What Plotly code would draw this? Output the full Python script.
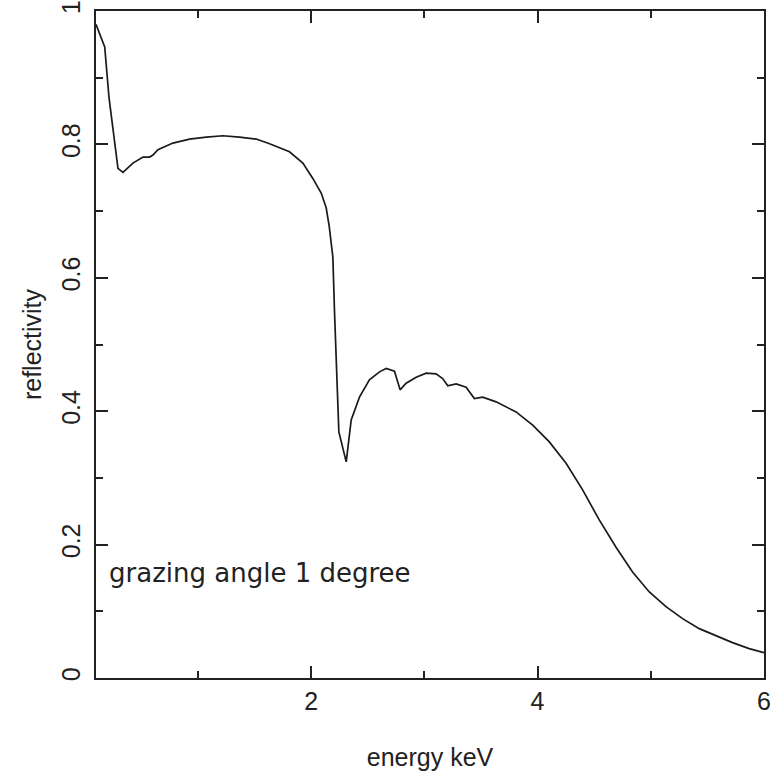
import plotly.graph_objects as go

# values
energy = [0.10, 0.177, 0.215, 0.294, 0.338, 0.426, 0.515, 0.574, 0.603, 0.647,
          0.779, 0.927, 1.074, 1.221, 1.368, 1.515, 1.633, 1.809, 1.927, 2.015,
          2.089, 2.133, 2.160, 2.192, 2.207, 2.227, 2.245, 2.310, 2.354, 2.427,
          2.515, 2.604, 2.663, 2.736, 2.786, 2.839, 2.928, 3.016, 3.104, 3.162,
          3.207, 3.281, 3.369, 3.442, 3.516, 3.634, 3.810, 3.957, 4.104, 4.252,
          4.398, 4.545, 4.693, 4.839, 4.987, 5.134, 5.281, 5.428, 5.575, 5.722,
          5.869, 6.0]
reflectivity = [0.980, 0.946, 0.870, 0.764, 0.758, 0.772, 0.781, 0.781, 0.784, 0.792,
                0.802, 0.808, 0.811, 0.813, 0.811, 0.808, 0.801, 0.789, 0.772, 0.749,
                0.727, 0.705, 0.677, 0.631, 0.547, 0.447, 0.369, 0.324, 0.387, 0.421,
                0.447, 0.459, 0.464, 0.460, 0.432, 0.442, 0.451, 0.457, 0.456, 0.449,
                0.438, 0.441, 0.436, 0.419, 0.421, 0.414, 0.399, 0.379, 0.354, 0.322,
                0.282, 0.237, 0.196, 0.159, 0.129, 0.107, 0.089, 0.074, 0.063, 0.053,
                0.044, 0.038]

x_range = [0.1, 6]
x_step = 2
y_range = [0, 1]
y_step = 0.2
label_text = "grazing angle 1 degree"

fig = go.Figure()
fig.add_trace(go.Scatter(x=energy, y=reflectivity, mode="lines",
                         line=dict(color="#1a1a1a", width=1.7), showlegend=False))

axis_style = dict(showgrid=False, zeroline=False, showline=True, mirror="ticks",
                  linecolor="#222", linewidth=1.5, ticks="inside", ticklen=12,
                  tickwidth=1.5, tickcolor="#222", automargin=False,
                  tickfont=dict(family="Liberation Sans", size=25, color="#222"))

fig.update_xaxes(range=x_range, tickmode="linear", tick0=0, dtick=x_step,
                 minor=dict(dtick=x_step / 2, ticks="inside", ticklen=7,
                            tickwidth=1.5, tickcolor="#222"),
                 title=dict(text="energy keV", standoff=35,
                            font=dict(family="Liberation Sans", size=25, color="#222")),
                 **axis_style)
fig.update_yaxes(range=y_range, tickmode="linear", tick0=0, dtick=y_step, tickangle=-90,
                 ticklabelstandoff=4,
                 minor=dict(dtick=y_step / 2, ticks="inside", ticklen=7,
                            tickwidth=1.5, tickcolor="#222"),
                 title=dict(text="reflectivity", standoff=9,
                            font=dict(family="Liberation Sans", size=25, color="#222")),
                 **axis_style)

fig.add_annotation(x=0.2, y=0.157, text=label_text, showarrow=False,
                   xanchor="left", yanchor="middle",
                   font=dict(family="DejaVu Sans", size=26, color="#222"))

fig.update_layout(width=780, height=771, plot_bgcolor="white", paper_bgcolor="white",
                  margin=dict(l=96, r=16, t=11, b=93))

# the page has a default 8px body margin; drop it so the figure sits at the corner
fig.write_html("out.html", config={"displayModeBar": False},
               post_script="document.body.style.margin='0';")
